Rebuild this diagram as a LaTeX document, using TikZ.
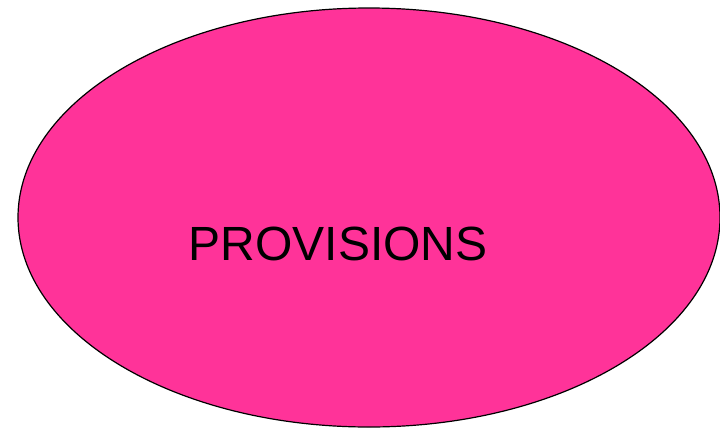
\documentclass[tikz,border=0pt]{standalone}
\usepackage{fontspec}
\setmainfont{Liberation Sans}
\usetikzlibrary{shapes.geometric}
\definecolor{provpink}{RGB}{255,51,153}

\begin{document}
\begin{tikzpicture}[
    x=1pt, y=-1pt,
    blob/.style={ellipse, draw=black, line width=1.2pt, fill=provpink, minimum width=702pt, minimum height=419pt, inner sep=0pt},
    lbl/.style={font=\fontsize{48}{52}\selectfont, inner sep=0pt}
]
\useasboundingbox (0,0) rectangle (720,429);
\node[blob] (prov) at (369,217.5) {};
\node[lbl] (provtext) at (338,244) {PROVISIONS};
\end{tikzpicture}
\end{document}
